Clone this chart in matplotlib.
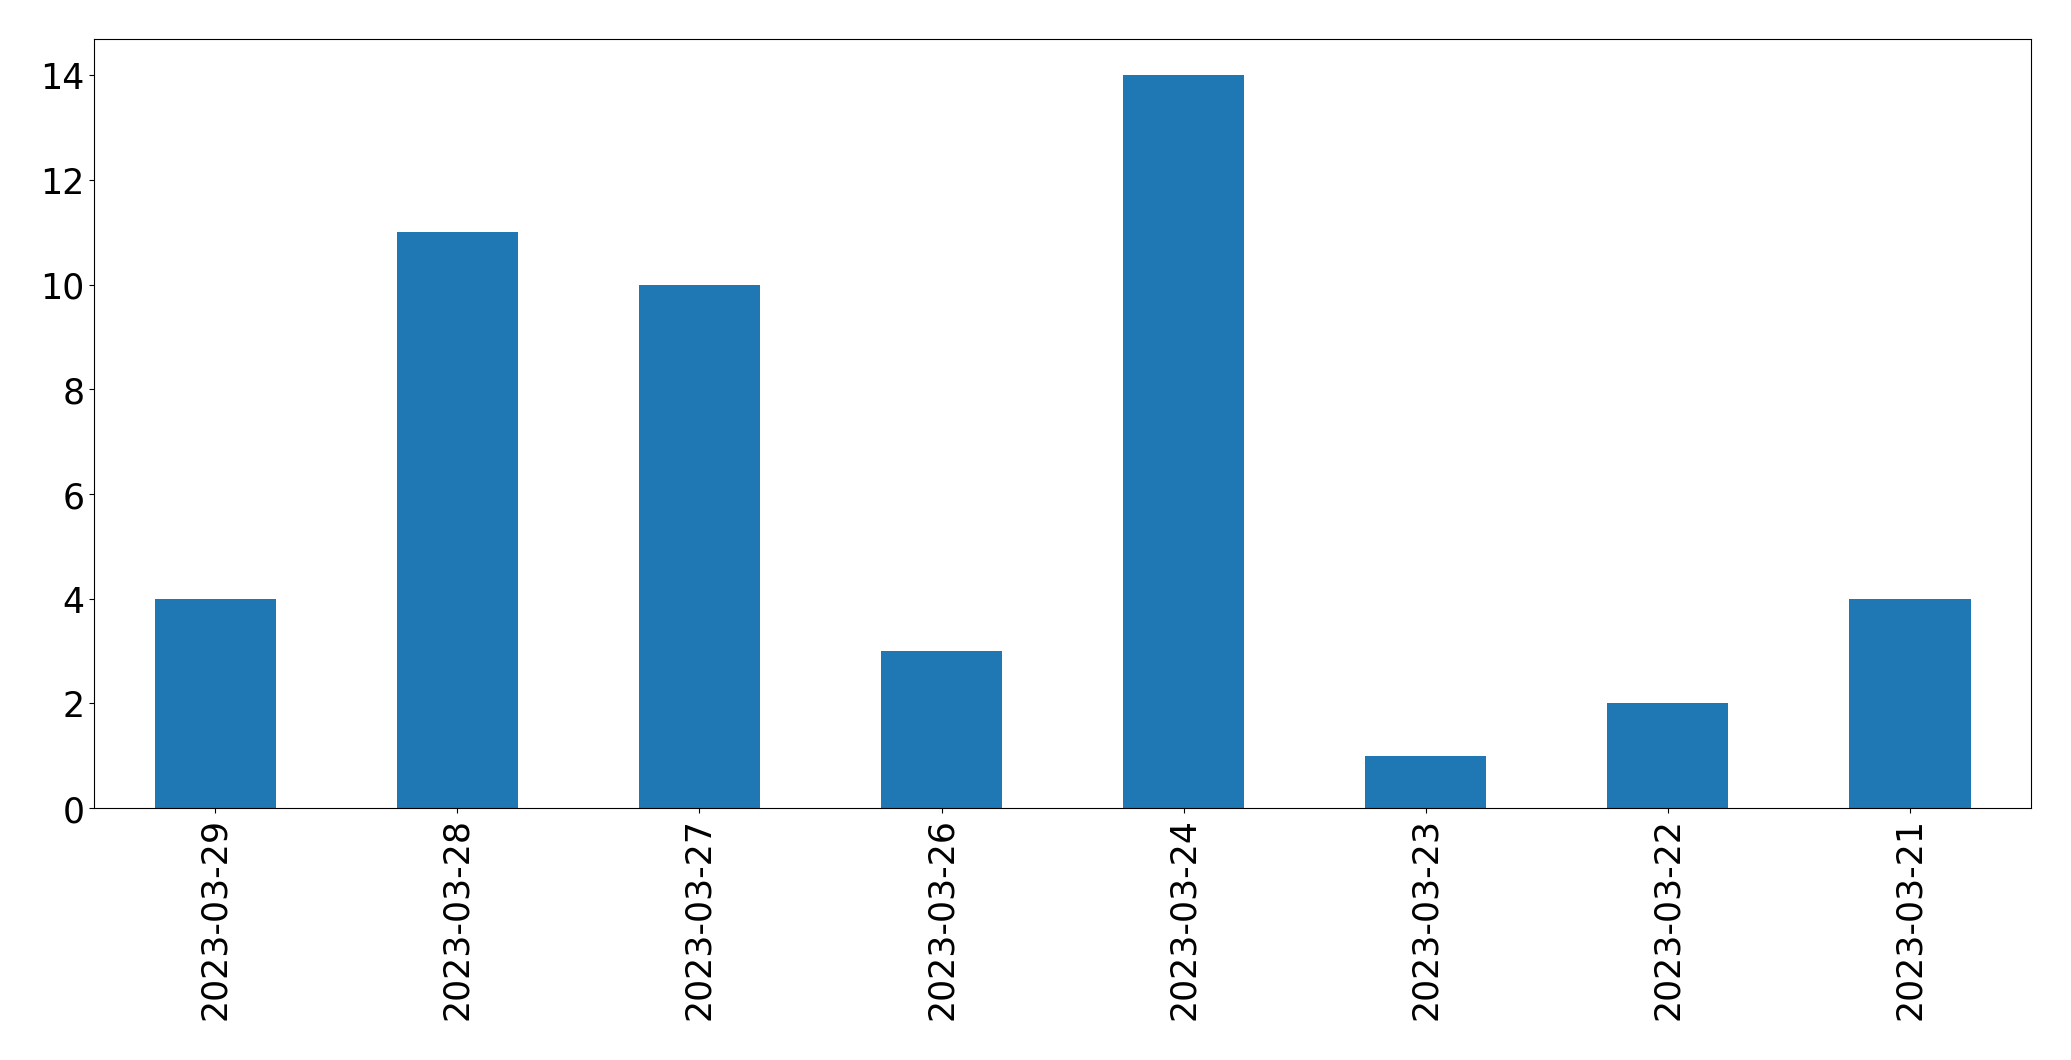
import matplotlib
matplotlib.use("Agg")
import matplotlib.pyplot as plt
import pandas as pd

# Data
dates = ["2023-03-29", "2023-03-28", "2023-03-27", "2023-03-26",
         "2023-03-24", "2023-03-23", "2023-03-22", "2023-03-21"]
counts = [4, 11, 10, 3, 14, 1, 2, 4]

series = pd.Series(counts, index=dates)

fig = plt.figure(figsize=(20.71, 10.605), dpi=100)
ax = fig.add_axes([0.0455, 0.2375, 0.9352, 0.7255])
series.plot(kind="bar", ax=ax, color="#1f77b4", fontsize=25)
ax.tick_params(axis="x", labelrotation=90)

fig.savefig("out.png", dpi=100)
